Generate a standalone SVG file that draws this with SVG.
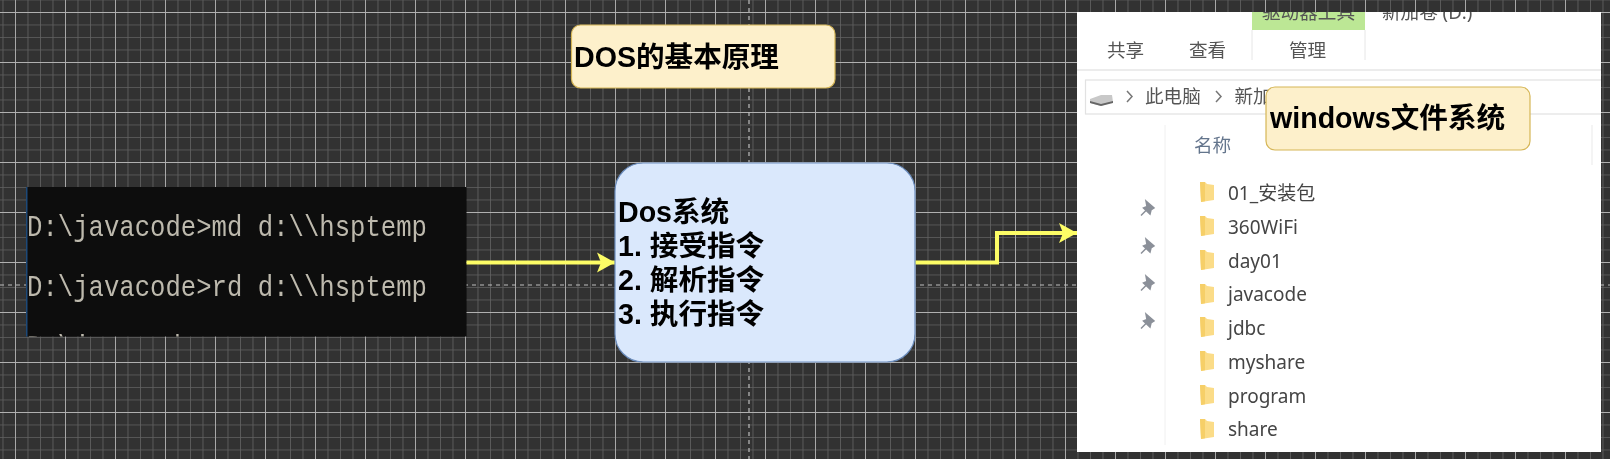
<svg xmlns="http://www.w3.org/2000/svg" width="1610" height="459" viewBox="0 0 1610 459">
<style>
.lbl{font-family:"Liberation Sans","Noto Sans CJK SC",sans-serif;font-size:28.6px;font-weight:bold;fill:#000}
.term{font-family:"Liberation Mono","DejaVu Sans Mono",monospace;font-size:30px;fill:#bdb9ad}
.ui{font-family:"Noto Sans","Noto Sans CJK SC",sans-serif;font-size:18.6px;fill:#555}
.file{font-family:"Noto Sans","Noto Sans CJK SC",sans-serif;font-size:19px;fill:#444}
.note{fill:#fdf0cb;stroke:#d6b656;stroke-width:1.2}
.wire{fill:none;stroke:#fdfd66;stroke-width:4}
.dash{stroke:#bdbdbd;stroke-width:1.2;stroke-dasharray:4 4}
</style>
<defs>
<filter id="soft" x="0" y="0" width="100%" height="100%"><feGaussianBlur stdDeviation="0.5"/></filter>
<pattern id="minor" x="2.5" y="-0.5" width="12.5" height="12.5" patternUnits="userSpaceOnUse"><path d="M0 0V12.5M0 0H12.5" stroke="#626262" stroke-width="1.6" fill="none"/></pattern>
<pattern id="major" x="15" y="12" width="50" height="50" patternUnits="userSpaceOnUse"><path d="M0 0V50M0 0H50" stroke="#b0b0b0" stroke-width="1.8" fill="none"/></pattern>
<marker id="head" markerUnits="userSpaceOnUse" markerWidth="22" markerHeight="24" refX="18" refY="12" orient="auto"><path d="M0 2L18 12L0 22L4 12Z" fill="#fdfd66"/></marker>
<clipPath id="termClip"><rect x="27" y="187" width="439.500" height="149.500"/></clipPath>
<clipPath id="panelClip"><rect x="1077" y="12" width="524" height="440"/></clipPath>
<g id="folderIcon"><path d="M0 0H5L7 2L14 3V18L1 20Z" fill="#fbdc88"/><path d="M0 0H5L5 19.300L1 20Z" fill="#f6cf68"/></g>
<g id="pinIcon"><path d="M4 1L12 8L9 10L8 14L1.500 8L5 6.500ZM4 10.500L-1 15.500" fill="#8b9099" stroke="#8b9099" stroke-width="1.500"/></g>
</defs>
<g filter="url(#soft)">
<rect width="1610" height="459" fill="#333333"/>
<rect width="1610" height="459" fill="url(#minor)"/>
<rect width="1610" height="459" fill="url(#major)"/>
<line x1="749" y1="0" x2="749" y2="459" class="dash"/>
<line x1="0" y1="285" x2="1610" y2="285" class="dash"/>
<g id="terminal">
<rect x="27" y="187" width="439.500" height="149.500" fill="#0c0c0c"/>
<rect x="26" y="187" width="1.500" height="149.500" fill="#1d4a78"/>
<g clip-path="url(#termClip)">
<text x="27" y="236" class="term" textLength="400" lengthAdjust="spacingAndGlyphs">D:\javacode&gt;md d:\\hsptemp</text>
<text x="27" y="296" class="term" textLength="400" lengthAdjust="spacingAndGlyphs">D:\javacode&gt;rd d:\\hsptemp</text>
<text x="27" y="356" class="term" textLength="184.600" lengthAdjust="spacingAndGlyphs">D:\javacode&gt;</text>
</g>
</g>
<g id="explorer">
<rect x="1077" y="12" width="524" height="440" fill="#ffffff"/>
<g clip-path="url(#panelClip)">
<rect x="1252" y="8" width="113" height="22" fill="#bce795"/>
<text x="1262" y="19" class="ui">驱动器工具</text>
<text x="1382" y="19" class="ui">新加卷 (D:)</text>
<path d="M1252 30V60M1365 30V60" stroke="#e6e6e6" stroke-width="1"/>
<text x="1107" y="57" class="ui">共享</text>
<text x="1189" y="57" class="ui">查看</text>
<text x="1289" y="57" class="ui">管理</text>
<line x1="1077" y1="70" x2="1601" y2="70" stroke="#e6e6e6" stroke-width="1.500"/>
<rect x="1085.500" y="80" width="530" height="34" fill="#fff" stroke="#e2e2e2" stroke-width="1.200"/>
<path d="M1090 99L1101 95H1112L1113 102L1101 106L1090 103Z" fill="#c8c8c8"/>
<path d="M1090 101L1101 104L1113 101V103L1101 106L1090 103Z" fill="#666"/>
<path d="M1127 91L1132 96.500L1127 102M1216 91L1221 96.500L1216 102" fill="none" stroke="#777" stroke-width="1.500"/>
<text x="1145" y="103" class="ui">此电脑</text>
<text x="1234.500" y="103" class="ui">新加</text>
<text x="1194" y="152" class="ui" style="fill:#64748c">名称</text>
<line x1="1165" y1="125" x2="1165" y2="445" stroke="#f0f0f0" stroke-width="1"/>
<line x1="1592" y1="125" x2="1592" y2="165" stroke="#f0f0f0" stroke-width="1.500"/>
<use href="#pinIcon" x="1142" y="200"/>
<use href="#pinIcon" x="1142" y="238"/>
<use href="#pinIcon" x="1142" y="275"/>
<use href="#pinIcon" x="1142" y="313"/>
<use href="#folderIcon" x="1200" y="182"/>
<use href="#folderIcon" x="1200" y="216"/>
<use href="#folderIcon" x="1200" y="250"/>
<use href="#folderIcon" x="1200" y="284"/>
<use href="#folderIcon" x="1200" y="317"/>
<use href="#folderIcon" x="1200" y="351"/>
<use href="#folderIcon" x="1200" y="385"/>
<use href="#folderIcon" x="1200" y="419"/>
<text x="1228" y="200" class="file">01_安装包</text>
<text x="1228" y="234" class="file">360WiFi</text>
<text x="1228" y="268" class="file">day01</text>
<text x="1228" y="301" class="file">javacode</text>
<text x="1228" y="335" class="file">jdbc</text>
<text x="1228" y="369" class="file">myshare</text>
<text x="1228" y="403" class="file">program</text>
<text x="1228" y="436" class="file">share</text>
</g>
</g>
<g id="connectors">
<path d="M466.500 262.500H615" class="wire" marker-end="url(#head)"/>
<path d="M915 262.500H997V233H1077" class="wire" marker-end="url(#head)"/>
</g>
<g id="title-note">
<rect x="571.500" y="25" width="263.500" height="63" rx="9" class="note"/>
<text x="574" y="67" class="lbl">DOS的基本原理</text>
</g>
<g id="dos-system">
<rect x="615" y="163" width="300" height="199" rx="28" fill="#dae8fc" stroke="#6c8ebf" stroke-width="1.200"/>
<text x="618" y="222" class="lbl">Dos系统</text>
<text x="618" y="256" class="lbl">1. 接受指令</text>
<text x="618" y="290" class="lbl">2. 解析指令</text>
<text x="618" y="324" class="lbl">3. 执行指令</text>
</g>
<g id="windows-note">
<rect x="1266" y="87" width="264" height="63" rx="9" class="note"/>
<text x="1270" y="128" class="lbl">windows文件系统</text>
</g>
</g>
</svg>
